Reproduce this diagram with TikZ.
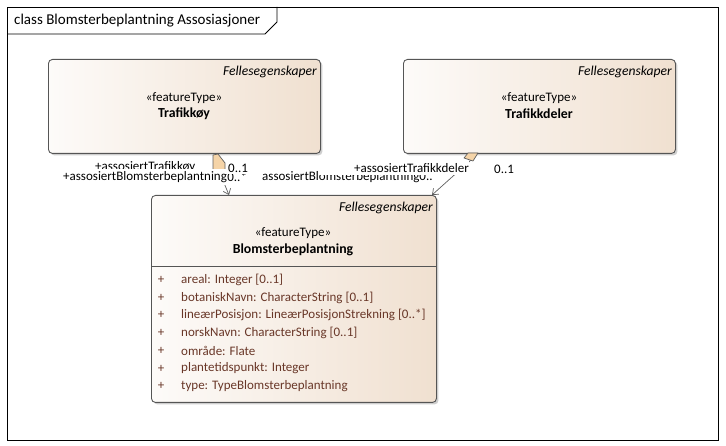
\documentclass[tikz,border=0pt]{standalone}
\usepackage{fontspec}
\setmainfont{Carlito}
\usetikzlibrary{arrows.meta,shadows}

\definecolor{boxline}{RGB}{85,85,85}
\definecolor{fillL}{RGB}{253,251,249}
\definecolor{fillR}{RGB}{240,224,208}
\definecolor{attrcol}{RGB}{105,55,40}
\definecolor{diamfill}{RGB}{245,212,168}
\definecolor{linkcol}{RGB}{95,95,95}

\tikzset{
  classbox/.style={draw=boxline, line width=0.9pt, rounded corners=4pt,
    left color=fillL, right color=fillR, anchor=north west,
    drop shadow={shadow xshift=2pt, shadow yshift=-2pt, opacity=0.35, fill=black!55}},
  lbl/.style={font=\fontsize{13}{15}\selectfont, inner sep=0pt},
  italbl/.style={lbl, font=\fontsize{13.6}{15}\selectfont\itshape, anchor=east},
  boldlbl/.style={lbl, font=\fontsize{13.8}{15}\selectfont\bfseries},
  attrtxt/.style={lbl, text=attrcol, anchor=west},
  rolelbl/.style={lbl, fill=white, inner ysep=2pt},
  diamond shape/.style={draw=linkcol, fill=diamfill, line width=0.7pt, line join=round},
  link/.style={draw=linkcol, line width=0.7pt, -{Straight Barb[length=5pt, width=8pt]}}
}

\begin{document}
\begin{tikzpicture}[x=1pt, y=-1pt]
\useasboundingbox (0,0) rectangle (726,446);

% diagram frame and title tab
\draw[line width=0.8pt] (7,7) rectangle (718,440);
\draw[line width=0.8pt] (7,34) -- (265,34) -- (277,22) -- (277,7);
\node[lbl, font=\fontsize{15}{17}\selectfont, anchor=west] (title) at (14,21)
  {class Blomsterbeplantning Assosiasjoner};

% class boxes
\node[classbox, minimum width=272pt, minimum height=94pt] (trafikkoy) at (48,59) {};
\node[classbox, minimum width=272pt, minimum height=94pt] (trafikkdeler) at (403,59) {};
\node[classbox, minimum width=285pt, minimum height=207pt] (blomster) at (151,195) {};
\draw[boxline, line width=0.9pt] (151,266) -- (436,266);

% Trafikkøy
\node[italbl] (t1) at (317,72) {Fellesegenskaper};
\node[lbl] (s1) at (184,98) {«featureType»};
\node[boldlbl] (n1) at (184,114) {Trafikkøy};

% Trafikkdeler
\node[italbl] (t2) at (672,72) {Fellesegenskaper};
\node[lbl] (s2) at (539,98) {«featureType»};
\node[boldlbl] (n2) at (539,114) {Trafikkdeler};

% Blomsterbeplantning
\node[italbl] (t3) at (433,208) {Fellesegenskaper};
\node[lbl] (s3) at (293,233) {«featureType»};
\node[boldlbl] (n3) at (293,250) {Blomsterbeplantning};

\foreach \a [count=\i] in {{areal: Integer [0..1]},
    {botaniskNavn: CharacterString [0..1]},
    {lineærPosisjon: LineærPosisjonStrekning [0..*]},
    {norskNavn: CharacterString [0..1]},
    {område: Flate},
    {plantetidspunkt: Integer},
    {type: TypeBlomsterbeplantning}} {
  \node[lbl, text=attrcol] (p\i) at (161,{280+17.7*(\i-1)}) {+};
  \node[attrtxt] (a\i) at (181,{280+17.7*(\i-1)}) {\a};
}

% aggregation ends and connectors
\coordinate (d1) at (219,171);
\coordinate (e1) at (229,195);
\coordinate (d2) at (471,160);
\coordinate (e2) at (432,195);
\draw[link] (d1) -- (e1);
\draw[link] (d2) -- (e2);
\draw[diamond shape] (213,155) -- (218,154) -- (225,163) -- (225,171) -- (213,171) -- cycle;
\draw[diamond shape] (464,158) -- (468,153) -- (478,153) -- (473,161) -- cycle;

% role names and multiplicities (white backgrounds overlap as laid out)
\node[lbl, anchor=west] (r1) at (95,167) {+assosiertTrafikkøy};
\node[rolelbl, anchor=west] (r2) at (63,177) {+assosiertBlomsterbeplantning};
\node[rolelbl, anchor=west] (m2) at (r2.east) {0..*};
\node[rolelbl, anchor=west] (m1) at (228,168) {0..1};
\node[lbl, anchor=west] (r3) at (262,177) {assosiertBlomsterbeplantning0..*};
\node[rolelbl, anchor=east, text width=150pt, align=right] (r4) at (469,168) {+assosiertTrafikkdeler};
\node[lbl, anchor=west] (m4) at (494,169) {0..1};
\end{tikzpicture}
\end{document}
